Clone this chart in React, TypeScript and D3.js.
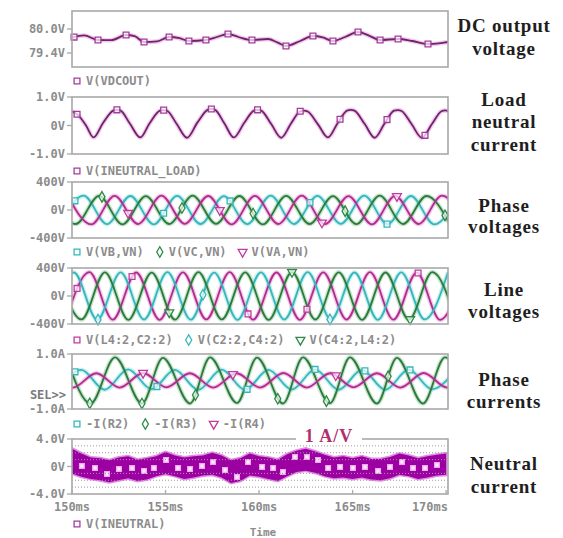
import { useEffect, useRef } from 'react';
import * as d3 from 'd3';

// time axis (ms)
const timeDomain = [150, 170.1];
const timeTicks = [150, 155, 160, 165, 170];
const timeTickLabels = ['150ms', '155ms', '160ms', '165ms', '170ms'];

// DC output voltage  V(VDCOUT)
const dcOut = [
  [150.0, 79.78], [150.11, 79.8], [150.65, 79.84], [151.39, 79.725], [152.1, 79.72], [152.89, 79.85],
  [153.35, 79.82], [153.85, 79.675], [154.55, 79.69], [155.19, 79.8], [155.75, 79.77], [156.25, 79.7],
  [157.16, 79.725], [157.75, 79.8], [158.34, 79.875], [158.9, 79.8], [159.62, 79.725], [160.48, 79.75],
  [161.0, 79.66], [161.44, 79.575], [162.2, 79.7], [162.88, 79.825], [163.4, 79.79], [163.95, 79.7],
  [164.6, 79.8], [165.29, 79.925], [165.9, 79.83], [166.47, 79.725], [167.43, 79.75], [168.2, 79.7],
  [169.03, 79.625], [169.6, 79.64], [170.1, 79.675],
];
const dcOutMarks = [150.11, 151.39, 152.89, 153.85, 155.19, 156.25, 157.16, 158.34, 159.62, 161.44, 162.88, 163.95, 165.29, 166.47, 167.43, 169.03];

// load neutral current  V(INEUTRAL_LOAD)
const loadNeutral = [
  [150.0, 0.5], [150.3, 0.38], [150.75, 0.0], [151.15, -0.42], [151.65, 0.08], [152.2, 0.52], [152.4, 0.55], [152.6, 0.52],
  [153.1, 0.06], [153.65, -0.42], [154.15, 0.08], [154.7, 0.52], [154.9, 0.54], [155.1, 0.51],
  [155.6, 0.05], [156.15, -0.43], [156.7, 0.1], [157.25, 0.55], [157.45, 0.58], [157.65, 0.55],
  [158.15, 0.07], [158.65, -0.42], [159.2, 0.09], [159.72, 0.52], [159.92, 0.55], [160.12, 0.52],
  [160.65, 0.05], [161.18, -0.43], [161.7, 0.06], [162.2, 0.5], [162.4, 0.52], [162.6, 0.49],
  [163.15, 0.04], [163.68, -0.42], [164.2, 0.08], [164.7, 0.52], [164.9, 0.55], [165.1, 0.52],
  [165.65, 0.05], [166.18, -0.43], [166.7, 0.06], [167.22, 0.52], [167.42, 0.54], [167.62, 0.51],
  [168.15, 0.05], [168.7, -0.43], [169.25, 0.06], [169.75, 0.5], [169.95, 0.53], [170.15, 0.5],
];
const loadNeutralMarks = [150.27, 152.4, 154.9, 157.45, 159.92, 162.2, 164.33, 166.84, 168.87];

// phase voltages
const vbvn = [
  [149.37, -200], [150.62, 205], [151.87, -202], [153.12, 200], [154.37, -205], [155.62, 203],
  [156.87, -200], [158.12, 198], [159.37, -203], [160.62, 205], [161.87, -200], [163.12, 202],
  [164.37, -198], [165.62, 205], [166.87, -202], [168.12, 200], [169.37, -205], [170.62, 200],
];
const vcvn = [
  [148.95, 205], [150.2, -200], [151.45, 202], [152.7, -205], [153.95, 198], [155.2, -200],
  [156.45, 205], [157.7, -198], [158.95, 200], [160.2, -205], [161.45, 203], [162.7, -200],
  [163.95, 198], [165.2, -203], [166.45, 205], [167.7, -200], [168.95, 200], [170.2, -202],
];
const vavn = [
  [149.78, 200], [151.03, -205], [152.28, 203], [153.53, -200], [154.78, 205], [156.03, -198],
  [157.28, 200], [158.53, -205], [159.78, 202], [161.03, -200], [162.28, 205], [163.53, -202],
  [164.78, 198], [166.03, -205], [167.28, 203], [168.53, -200], [169.78, 205], [171.03, -200],
];
const vbvnMarks = [150.16, 154.9, 158.45, 162.72, 166.84];
const vcvnMarks = [151.6, 155.88, 159.68, 164.6, 169.94];
const vavnMarks = [153.0, 157.9, 163.36, 167.37];

// line voltages
const l4c2 = [
  [149.68, -336], [150.93, 340], [152.18, -338], [153.43, 336], [154.68, -340], [155.93, 338],
  [157.18, -335], [158.43, 340], [159.68, -338], [160.93, 336], [162.18, -340], [163.43, 338],
  [164.68, -336], [165.93, 340], [167.18, -338], [168.43, 335], [169.68, -340], [170.93, 338],
];
const c2c4 = [
  [148.85, -338], [150.1, 336], [151.35, -340], [152.6, 338], [153.85, -336], [155.1, 340],
  [156.35, -338], [157.6, 335], [158.85, -340], [160.1, 338], [161.35, -336], [162.6, 340],
  [163.85, -338], [165.1, 336], [166.35, -340], [167.6, 338], [168.85, -335], [170.1, 340],
];
const c4l4 = [
  [149.26, 340], [150.51, -335], [151.76, 338], [153.01, -340], [154.26, 335], [155.51, -338],
  [156.76, 340], [158.01, -335], [159.26, 338], [160.51, -340], [161.76, 342], [163.01, -336],
  [164.26, 338], [165.51, -340], [166.76, 336], [168.01, -338], [169.26, 340], [170.51, -336],
];
const l4c2Marks = [150.27, 153.21, 159.41, 162.56, 168.5];
const c2c4Marks = [151.39, 157.0, 163.79];
const c4l4Marks = [155.2, 161.76, 168.07];

// phase currents
const ir2 = [
  [149.25, -0.3], [150.5, 0.42], [151.75, -0.3], [153.0, 0.44], [154.25, -0.28], [155.5, 0.42],
  [156.75, -0.3], [158.0, 0.43], [159.25, -0.3], [160.5, 0.42], [161.75, -0.29], [163.0, 0.44],
  [164.25, -0.3], [165.5, 0.42], [166.75, -0.3], [168.0, 0.43], [169.25, -0.28], [170.5, 0.42],
];
const ir3 = [
  [149.7, 0.88], [151.0, -0.8], [152.3, 0.88], [153.74, -0.8], [154.86, 0.86], [156.31, -0.8],
  [157.38, 0.88], [158.82, -0.78], [159.89, 0.87], [161.28, -0.8], [162.35, 0.88], [163.79, -0.79],
  [164.86, 0.88], [166.3, -0.8], [167.37, 0.86], [168.76, -0.8], [169.94, 0.88], [171.2, -0.8],
];
const ir4 = [
  [148.8, 0.3], [150.05, -0.22], [151.3, 0.3], [152.55, -0.22], [153.8, 0.31], [155.05, -0.21],
  [156.3, 0.3], [157.55, -0.22], [158.8, 0.3], [160.05, -0.22], [161.3, 0.31], [162.55, -0.22],
  [163.8, 0.3], [165.05, -0.21], [166.3, 0.3], [167.55, -0.22], [168.8, 0.31], [170.05, -0.22], [171.3, 0.3],
];
const ir2Marks = [150.16, 154.54, 159.36, 162.99, 165.66, 168.07];
const ir3Marks = [150.95, 153.74, 156.6, 161.0, 163.6, 166.9];
const ir4Marks = [153.8, 158.6, 164.1];

// neutral current  V(INEUTRAL): band envelope + marker points
const neutralTimes = [
  150, 150.5, 151, 151.5, 152, 152.5, 153, 153.5, 154, 154.5, 155, 155.5, 156, 156.5, 157, 157.5,
  158, 158.5, 159, 159.5, 160, 160.5, 161, 161.5, 162, 162.5, 163, 163.5, 164, 164.5, 165, 165.5,
  166, 166.5, 167, 167.5, 168, 168.5, 169, 169.5, 170,
];
const neutralUpper = [
  2.6, 1.9, 1.3, 1.2, 0.9, 1.3, 1.5, 1.0, 1.2, 1.5, 2.1, 1.6, 1.3, 1.5, 1.6, 2.0, 1.6, 0.9, 1.2, 1.9,
  1.5, 1.3, 1.0, 1.8, 2.3, 2.6, 2.2, 1.7, 1.3, 1.5, 1.2, 1.5, 1.1, 1.1, 1.4, 1.9, 1.6, 1.2, 1.5, 1.7, 1.9,
];
const neutralLower = [
  -1.0, -1.5, -1.8, -2.0, -2.3, -2.0, -1.7, -2.1, -1.9, -1.4, -1.1, -1.4, -1.8, -1.6, -1.3, -1.2, -1.6,
  -2.4, -2.1, -1.3, -1.5, -1.8, -2.1, -1.4, -0.8, -0.6, -0.9, -1.4, -1.7, -1.6, -1.8, -1.6, -1.9, -2.0,
  -1.7, -1.2, -1.4, -1.8, -1.6, -1.3, -1.2,
];
const neutralMarks = [
  [150.53, 0.07], [151.23, -0.22], [151.87, -1.09], [152.51, -0.36], [153.21, -0.22], [153.85, -0.65],
  [154.38, -0.22], [155.03, 0.95], [155.67, -0.22], [156.31, -0.36], [156.95, 0.07], [157.54, 0.65],
  [158.18, -0.51], [158.82, -1.53], [159.41, 0.65], [160.16, -0.07], [160.75, -0.22], [161.28, -0.8],
  [161.92, 1.38], [162.56, 1.38], [163.15, 0.95], [163.69, -0.22], [164.33, -0.07], [165.02, -0.22],
  [165.66, -0.07], [166.36, -0.65], [167.0, -0.07], [167.64, 0.65], [168.23, -0.22], [168.87, -0.22],
  [169.51, 0.22],
];
const neutralGrid = [3, 2, 1, -1, -2, -3];

// axes per panel
const panelTitles = [
  ['DC output', 'voltage'], ['Load', 'neutral', 'current'], ['Phase', 'voltages'],
  ['Line', 'voltages'], ['Phase', 'currents'], ['Neutral', 'current'],
];
const yDomains = [[79.05, 80.45], [-1, 1], [-400, 400], [-400, 400], [-1, 1], [-4, 4]];
const yTicks = [[80.0, 79.4], [1, 0, -1], [400, 0, -400], [400, 0, -400], [1, -1], [4, 0, -4]];
const yTickLabels = [
  ['80.0V', '79.4V'], ['1.0V', '0V', '-1.0V'], ['400V', '0V', '-400V'],
  ['400V', '0V', '-400V'], ['1.0A', '-1.0A'], ['4.0V', '0V', '-4.0V'],
];

// layout
const W = 563;
const H = 538;
const X0 = 72;
const X1 = 448;
const PANEL_Y = [[11, 67], [97, 154], [182, 238], [268, 324], [354, 409], [439, 494]];
const LEGEND_Y = [85, 175, 256, 344, 428, 528];
const TITLE_Y = [[32, 55], [106, 128, 151], [212, 233], [296, 318], [386, 408], [470, 493]];

const MAG = { color: '#6e2466', halo: '#e9a6e6', mark: '#a23c9c' };
const CYAN = { color: '#36b6ba', halo: '#a8e6e8', mark: '#36b6ba' };
const GREEN = { color: '#2c7a3e', halo: '#a2d2aa', mark: '#2c8a44' };
const PINK = { color: '#b02c8e', halo: '#eaa6dc', mark: '#c03aa0' };

type Series = { name: string; data: number[][]; marks: number[]; style: typeof MAG; shape: string };

const panelSeries: Series[][] = [
  [{ name: 'V(VDCOUT)', data: dcOut, marks: dcOutMarks, style: MAG, shape: 'square' }],
  [{ name: 'V(INEUTRAL_LOAD)', data: loadNeutral, marks: loadNeutralMarks, style: MAG, shape: 'square' }],
  [
    { name: 'V(VB,VN)', data: vbvn, marks: vbvnMarks, style: CYAN, shape: 'square' },
    { name: 'V(VC,VN)', data: vcvn, marks: vcvnMarks, style: GREEN, shape: 'diamond' },
    { name: 'V(VA,VN)', data: vavn, marks: vavnMarks, style: PINK, shape: 'triangle' },
  ],
  [
    { name: 'V(L4:2,C2:2)', data: l4c2, marks: l4c2Marks, style: PINK, shape: 'square' },
    { name: 'V(C2:2,C4:2)', data: c2c4, marks: c2c4Marks, style: CYAN, shape: 'diamond' },
    { name: 'V(C4:2,L4:2)', data: c4l4, marks: c4l4Marks, style: GREEN, shape: 'triangle' },
  ],
  [
    { name: '-I(R2)', data: ir2, marks: ir2Marks, style: CYAN, shape: 'square' },
    { name: '-I(R3)', data: ir3, marks: ir3Marks, style: GREEN, shape: 'diamond' },
    { name: '-I(R4)', data: ir4, marks: ir4Marks, style: PINK, shape: 'triangle' },
  ],
  [{ name: 'V(INEUTRAL)', data: [], marks: [], style: MAG, shape: 'square' }],
];

const MONO = "'DejaVu Sans Mono', monospace";
const SERIF = "'Liberation Serif', 'Times New Roman', serif";
const AXIS_GRAY = '#8c8c8c';
const FRAME_GRAY = '#a9a9a9';

const App = () => {
  const ref = useRef<SVGSVGElement>(null);

  useEffect(() => {
    const svg = d3.select(ref.current);
    svg.selectAll('*').remove();
    const x = d3.scaleLinear().domain(timeDomain).range([X0, X1]);

    const drawSymbol = (g: any, shape: string, cx: number, cy: number, stroke: string, fill: string, size = 34) => {
      const type = shape === 'square' ? d3.symbolSquare : shape === 'diamond' ? d3.symbolDiamond : d3.symbolTriangle;
      g.append('path')
        .attr('d', d3.symbol().type(type).size(shape === 'diamond' ? size - 2 : size)())
        .attr('transform', `translate(${cx},${cy})${shape === 'triangle' ? ' rotate(180)' : ''}`)
        .attr('fill', fill)
        .attr('stroke', stroke)
        .attr('stroke-width', 1.3);
    };

    panelSeries.forEach((series, i) => {
      const [top, bottom] = PANEL_Y[i];
      const y = d3.scaleLinear().domain(yDomains[i]).range([bottom, top]);
      const clipId = `clip-${i}`;
      svg.append('clipPath').attr('id', clipId)
        .append('rect').attr('x', X0).attr('y', top).attr('width', X1 - X0).attr('height', bottom - top);

      const plot = svg.append('g').attr('clip-path', `url(#${clipId})`);

      if (i === 5) {
        // dotted grid
        neutralGrid.forEach(v => {
          svg.append('line')
            .attr('x1', X0).attr('x2', X1).attr('y1', y(v)).attr('y2', y(v))
            .attr('stroke', '#9a9a9a').attr('stroke-width', 1).attr('stroke-dasharray', '1,2');
        });
        const band = neutralTimes.map((t, k) => [t, neutralUpper[k], neutralLower[k]]);
        const area = d3.area<number[]>().x(d => x(d[0])).y0(d => y(d[2])).y1(d => y(d[1]));
        plot.append('path').attr('d', area(band)).attr('fill', '#e38ae6').attr('stroke', '#e38ae6').attr('stroke-width', 3);
        plot.append('path').attr('d', area(band)).attr('fill', '#9c00a2');
        neutralMarks.forEach(d => drawSymbol(plot, 'square', x(d[0]), y(d[1]), '#f0a8f0', '#fbe6fb', 22));
      }

      const line = d3.line<number[]>().x(d => x(d[0])).y(d => y(d[1])).curve(d3.curveMonotoneX);
      series.forEach(s => {
        if (!s.data.length) return;
        plot.append('path').attr('d', line(s.data)).attr('fill', 'none')
          .attr('stroke', s.style.halo).attr('stroke-width', 4.5).attr('stroke-opacity', 0.6);
      });
      const cores = series.map(s =>
        s.data.length
          ? plot.append('path').attr('d', line(s.data)).attr('fill', 'none')
            .attr('stroke', s.style.color).attr('stroke-width', 1.8)
          : null,
      );
      series.forEach((s, k) => {
        const core = cores[k];
        if (!core || !s.marks.length) return;
        const node = core.node() as SVGPathElement;
        const len = node.getTotalLength();
        const pts: DOMPoint[] = [];
        for (let l = 0; l <= len; l += 0.5) pts.push(node.getPointAtLength(l));
        s.marks.forEach(t => {
          const cx = x(t);
          let best = pts[0];
          pts.forEach(p => { if (Math.abs(p.x - cx) < Math.abs(best.x - cx)) best = p; });
          drawSymbol(svg, s.shape, cx, best.y, s.style.mark, 'rgba(255,255,255,0.7)');
        });
      });

      // frame
      svg.append('rect').attr('x', X0).attr('y', top).attr('width', X1 - X0).attr('height', bottom - top)
        .attr('fill', 'none').attr('stroke', FRAME_GRAY).attr('stroke-width', 1.6);

      // y ticks
      yTicks[i].forEach((v, k) => {
        svg.append('line').attr('x1', X0 - 5).attr('x2', X0).attr('y1', y(v)).attr('y2', y(v))
          .attr('stroke', FRAME_GRAY).attr('stroke-width', 1.3);
        svg.append('text').attr('x', X0 - 7).attr('y', y(v) + 4).attr('text-anchor', 'end')
          .attr('font-family', MONO).attr('font-size', 12).attr('font-weight', 'bold')
          .attr('fill', AXIS_GRAY).text(yTickLabels[i][k]);
      });
      if (i === 4) {
        svg.append('text').attr('x', X0 - 6).attr('y', 399).attr('text-anchor', 'end')
          .attr('font-family', MONO).attr('font-size', 12).attr('font-weight', 'bold')
          .attr('fill', '#7a7a7a').text('SEL>>');
      }

      // legend
      let lx = 77;
      series.forEach(s => {
        drawSymbol(svg, s.shape, lx, LEGEND_Y[i] - 4, s.style.mark, '#ffffff');
        const txt = svg.append('text').attr('x', lx + 9).attr('y', LEGEND_Y[i])
          .attr('font-family', MONO).attr('font-size', 12).attr('font-weight', 'bold')
          .attr('fill', AXIS_GRAY).text(s.name);
        const w = (txt.node() as SVGTextElement).getComputedTextLength();
        lx = lx + 9 + w + 16;
      });

      // title on the right
      panelTitles[i].forEach((t, k) => {
        svg.append('text').attr('x', 504).attr('y', TITLE_Y[i][k]).attr('text-anchor', 'middle')
          .attr('font-family', SERIF).attr('font-size', 19).attr('font-weight', 'bold')
          .attr('letter-spacing', 0.8).attr('fill', '#1e1e1e').text(t);
      });

      if (i === 5) {
        timeTicks.forEach(t => {
          svg.append('line').attr('x1', x(t)).attr('x2', x(t)).attr('y1', bottom).attr('y2', bottom - 4)
            .attr('stroke', FRAME_GRAY).attr('stroke-width', 1.3);
        });
        svg.append('rect').attr('x', 296).attr('y', 428).attr('width', 66).attr('height', 17).attr('fill', '#ffffff');
        svg.append('text').attr('x', 329).attr('y', 442).attr('text-anchor', 'middle')
          .attr('font-family', SERIF).attr('font-size', 18).attr('font-weight', 'bold')
          .attr('letter-spacing', 1).attr('fill', '#b0306e').text('1 A/V');
      }
    });

    // time axis labels
    timeTicks.forEach((t, k) => {
      const last = k === timeTicks.length - 1;
      svg.append('text').attr('x', last ? X1 : x(t)).attr('y', 511)
        .attr('text-anchor', last ? 'end' : 'middle')
        .attr('font-family', MONO).attr('font-size', 12).attr('font-weight', 'bold')
        .attr('fill', AXIS_GRAY).text(timeTickLabels[k]);
    });
    svg.append('text').attr('x', 263).attr('y', 536).attr('text-anchor', 'middle')
      .attr('font-family', MONO).attr('font-size', 11).attr('font-weight', 'bold')
      .attr('fill', AXIS_GRAY).text('Time');
  }, []);

  return (
    <svg
      ref={ref}
      width={W}
      height={H}
      style={{ position: 'absolute', left: 0, top: 0, background: '#ffffff' }}
    />
  );
};

export default App;
